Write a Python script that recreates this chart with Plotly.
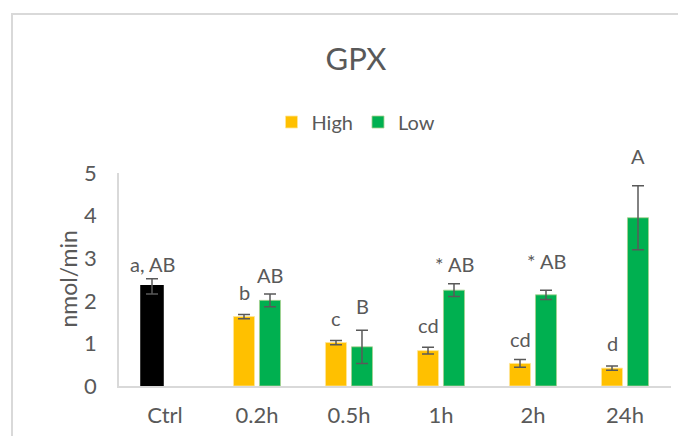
import plotly.graph_objects as go

# data
categories = ["Ctrl", "0.2h", "0.5h", "1h", "2h", "24h"]
ctrl_value = 2.34
ctrl_error = 0.18
high_values = [None, 1.63, 1.02, 0.83, 0.53, 0.42]
high_errors = [None, 0.05, 0.05, 0.08, 0.09, 0.05]
low_values = [None, 2.01, 0.92, 2.25, 2.14, 3.95]
low_errors = [None, 0.15, 0.39, 0.15, 0.11, 0.75]
high_labels = ["a, AB", "b", "c", "cd", "cd", "d"]
low_labels = ["", "AB", "B", "* AB", "* AB", "A"]

GOLD = "#FFC000"
GREEN = "#00B050"
TEXT = "#595959"
AXIS = "#D9D9D9"
FONT = "Lato, Carlito, Calibri, sans-serif"

# page body adds 8px; plot area sits at x 119..671, y 173..386 on screen
OFF = 8
W, H = 686, 436
L, T, PW, PH = 119 - OFF, 173 - OFF, 552, 213

err_style = dict(type="data", color=TEXT, thickness=1.5, width=6)

fig = go.Figure()
fig.add_trace(
    go.Bar(
        name="High", x=categories, y=high_values, offsetgroup="high",
        marker=dict(color=GOLD, line=dict(color="#FFE699", width=0.8)),
        error_y=dict(array=high_errors, **err_style),
    )
)
fig.add_trace(
    go.Bar(
        name="Low", x=categories, y=low_values, offsetgroup="low",
        marker=dict(color=GREEN, line=dict(color="#A9D08E", width=0.8)),
        error_y=dict(array=low_errors, **err_style),
    )
)
# control bar shares the "High" slot, drawn in black
fig.add_trace(
    go.Bar(
        name="Ctrl", x=[categories[0]], y=[ctrl_value], offsetgroup="high",
        showlegend=False,
        marker=dict(color="#000000", line=dict(color="#000000", width=2.5)),
        error_y=dict(array=[ctrl_error], **err_style),
    )
)

# letter labels sit a few pixels above each error bar
tops_high = [ctrl_value + ctrl_error] + [v + e for v, e in zip(high_values[1:], high_errors[1:])]
high_shift = [15, 22, 22, 22, 21, 23]
low_shift = [0, 19, 24, 20, 29, 30]
for i, cat in enumerate(categories):
    if high_labels[i]:
        fig.add_annotation(
            x=cat, y=tops_high[i], text=high_labels[i],
            xshift=-13, yshift=high_shift[i], showarrow=False, yanchor="middle",
            font=dict(size=20, color=TEXT, family=FONT),
        )
    if low_labels[i]:
        fig.add_annotation(
            x=cat, y=low_values[i] + low_errors[i], text=low_labels[i],
            xshift=13, yshift=low_shift[i], showarrow=False, yanchor="middle",
            font=dict(size=20, color=TEXT, family=FONT),
        )

# y axis title as a rotated annotation so margins stay fixed
fig.add_annotation(
    x=(67 - 119) / PW, xref="paper", y=0.5, yref="paper", text="nmol/min",
    textangle=-90, showarrow=False, xanchor="center", yanchor="middle",
    font=dict(size=23, color=TEXT, family=FONT),
)

# outer chart border (cropped at right and bottom in the reference)
fig.add_shape(
    type="rect", xref="paper", yref="paper",
    x0=(12 - 119) / PW, x1=1.08, y0=-0.35, y1=(386 - 14) / PH,
    line=dict(color=AXIS, width=2), layer="below",
)

fig.update_layout(
    width=W,
    height=H,
    margin=dict(l=L, r=W - L - PW, t=T, b=H - T - PH, autoexpand=False),
    paper_bgcolor="white",
    plot_bgcolor="white",
    font=dict(family=FONT, color=TEXT, size=20),
    title=dict(
        text="GPX", x=(356 - OFF) / W, xref="container", xanchor="center",
        y=1 - (59 - OFF) / H, yref="container", yanchor="middle",
        font=dict(size=31, color=TEXT, family=FONT),
    ),
    legend=dict(
        orientation="h", x=(356 - 119) / PW, xanchor="center",
        y=(386 - 122) / PH, yanchor="middle",
        font=dict(size=20, color=TEXT, family=FONT), itemwidth=30,
        traceorder="normal",
    ),
    barmode="group",
    bargap=0.435,
    bargroupgap=0.19,
    xaxis=dict(
        showline=True, linecolor=AXIS, linewidth=2, ticks="", automargin=False,
        tickfont=dict(size=22, color=TEXT), ticklabelstandoff=9,
        showgrid=False,
    ),
    yaxis=dict(
        range=[0, 5], dtick=1, showline=True, linecolor=AXIS, linewidth=1.5,
        showgrid=False, zeroline=False, ticks="", automargin=False,
        tickfont=dict(size=22, color=TEXT), ticklabelstandoff=16,
    ),
)

fig.write_html("out.html")
